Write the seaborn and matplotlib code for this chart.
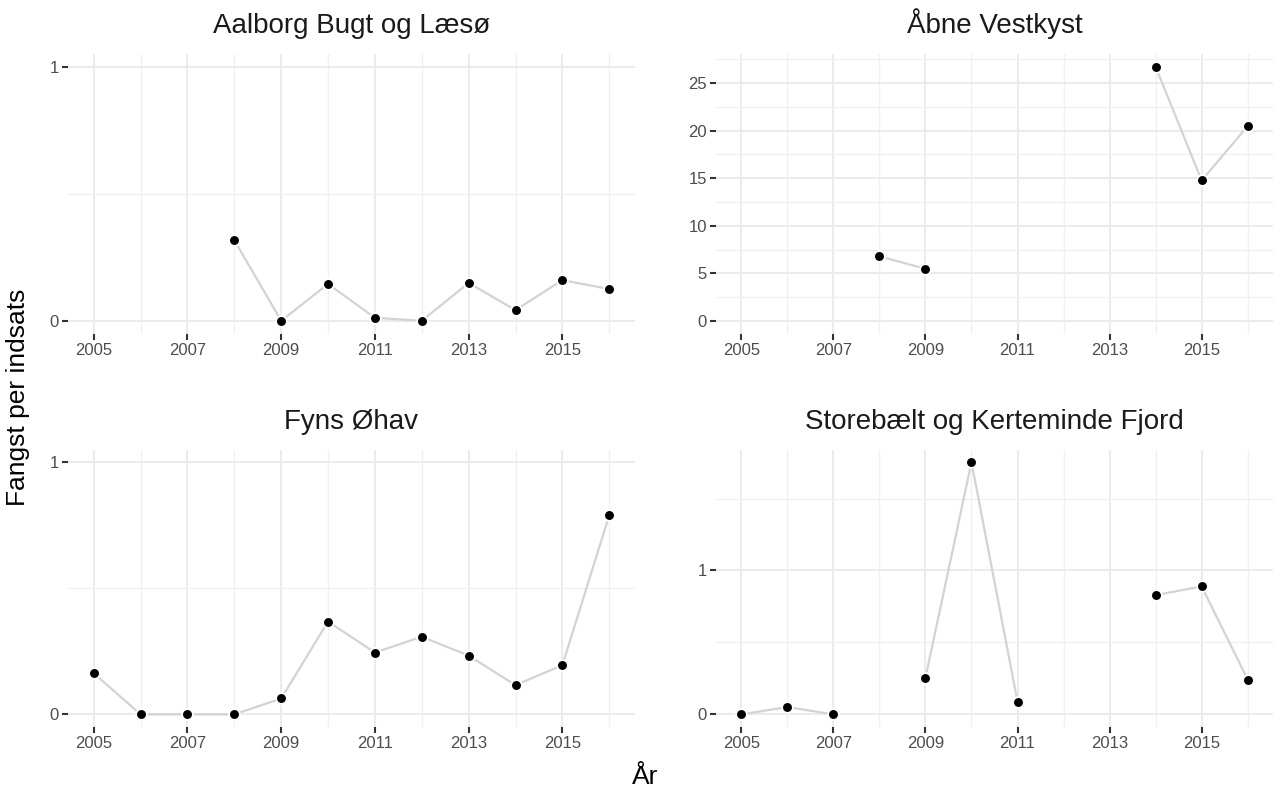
import numpy as np
import pandas as pd
import matplotlib
matplotlib.use("Agg")
import matplotlib.pyplot as plt
import seaborn as sns

# Catch per effort by area and year (NaN = no data that year)
years = list(range(2005, 2017))
areas = ["Aalborg Bugt og Læsø", "Åbne Vestkyst", "Fyns Øhav", "Storebælt og Kerteminde Fjord"]

aalborg = [np.nan, np.nan, np.nan, 0.317, 0.0, 0.145, 0.012, 0.0, 0.149, 0.042, 0.160, 0.125]
vestkyst = [np.nan, np.nan, np.nan, 6.78, 5.47, np.nan, np.nan, np.nan, np.nan, 26.73, 14.76, 20.48]
fyn = [0.163, 0.0, 0.0, 0.0, 0.063, 0.368, 0.245, 0.308, 0.233, 0.116, 0.195, 0.789]
storebaelt = [0.0, 0.051, 0.0, np.nan, 0.254, 1.753, 0.088, np.nan, np.nan, 0.829, 0.889, 0.242]

values = [aalborg, vestkyst, fyn, storebaelt]

# y breaks per panel (major, minor)
y_major = [[0, 1], [0, 5, 10, 15, 20, 25], [0, 1], [0, 1]]
y_minor = [[0.5], [2.5, 7.5, 12.5, 17.5, 22.5, 27.5], [0.5], [0.5, 1.5]]
x_major = [2005, 2007, 2009, 2011, 2013, 2015]
x_minor = [2006, 2008, 2010, 2012, 2014, 2016]

rows = []
for area, vals in zip(areas, values):
    seg = 0
    prev_nan = True
    for yr, v in zip(years, vals):
        if np.isnan(v):
            prev_nan = True
            continue
        if prev_nan:
            seg += 1
        prev_nan = False
        rows.append({"area": area, "year": yr, "value": v, "seg": seg})
df = pd.DataFrame(rows)

sns.set_theme(style="white")
plt.rcParams["font.family"] = ["Liberation Sans", "DejaVu Sans"]

W, H = 1274, 794
fig = plt.figure(figsize=(W / 100, H / 100), dpi=100)

# panel boxes in pixels: left, top, right, bottom
boxes = [(68, 54, 635, 333.5), (716, 54, 1273, 333.5),
         (68, 449.5, 635, 727), (716, 449.5, 1273, 727)]

for i, area in enumerate(areas):
    l, t, r, b = boxes[i]
    ax = fig.add_axes([l / W, 1 - b / H, (r - l) / W, (b - t) / H])
    sub = df[df["area"] == area]
    sns.lineplot(data=sub, x="year", y="value", units="seg", estimator=None,
                 color="#D3D3D3", linewidth=1.6, ax=ax, zorder=2)
    sns.scatterplot(data=sub, x="year", y="value", color="black", s=60,
                    edgecolor="white", linewidth=1.3, ax=ax, zorder=3)

    top = max(1.0, sub["value"].max())
    ax.set_ylim(-0.05 * top, top * 1.05)
    ax.set_xlim(2005 - 0.55, 2016 + 0.55)

    ax.set_xticks(x_major)
    ax.set_xticks(x_minor, minor=True)
    ax.set_yticks(y_major[i])
    ax.set_yticks(y_minor[i], minor=True)
    ax.set_xticklabels([str(x) for x in x_major])
    ax.set_yticklabels([str(y) for y in y_major[i]])

    ax.grid(True, which="major", color="#EBEBEB", linewidth=1.4, zorder=0)
    ax.grid(True, which="minor", color="#F0F0F0", linewidth=1.0, zorder=0)
    ax.set_axisbelow(True)
    for s in ax.spines.values():
        s.set_visible(False)
    ax.tick_params(which="major", bottom=True, left=True, length=4, width=1.5,
                   color="#333333", labelsize=12, labelcolor="#4D4D4D", pad=2.5)
    ax.tick_params(which="minor", length=0)
    ax.set_xlabel("")
    ax.set_ylabel("")
    ax.set_title(area, fontsize=20, color="#1A1A1A", pad=15)

fig.text(18 / W, 0.5, "Fangst per indsats", rotation=90, fontsize=19,
         ha="center", va="center", color="black")
fig.text(645 / W, 1 - 777 / H, "År", fontsize=19, ha="center", va="center",
         color="black")

fig.savefig("out.png", dpi=100, facecolor="white")
